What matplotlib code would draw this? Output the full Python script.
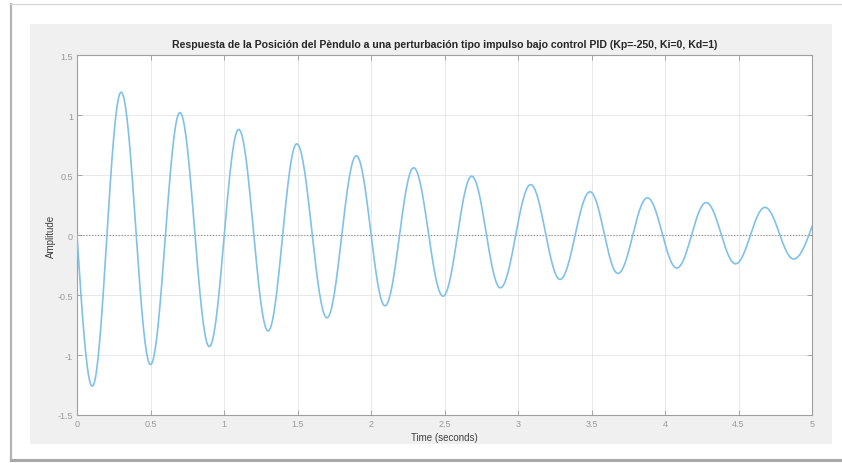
import numpy as np
import matplotlib
matplotlib.use('Agg')
import matplotlib.pyplot as plt
from matplotlib.patches import Rectangle
from matplotlib.lines import Line2D

plt.rcParams['font.family'] = ['Liberation Sans', 'DejaVu Sans']

# valores: picos y valles de la respuesta
t_start, v_start = 0.0, 0.0
t_ext = [0.104, 0.30, 0.50, 0.70, 0.90, 1.10, 1.30, 1.495, 1.70, 1.90,
         2.095, 2.29, 2.49, 2.685, 2.88, 3.086, 3.286, 3.49, 3.68, 3.88,
         4.08, 4.28, 4.48, 4.68, 4.875]
v_ext = [-1.26, 1.19, -1.08, 1.02, -0.93, 0.88, -0.80, 0.76, -0.69, 0.66,
         -0.59, 0.56, -0.51, 0.49, -0.44, 0.42, -0.37, 0.36, -0.32, 0.31,
         -0.275, 0.27, -0.24, 0.23, -0.20]
t_end, v_end = 5.0, 0.07

x_ticks = [0, 0.5, 1, 1.5, 2, 2.5, 3, 3.5, 4, 4.5, 5]
x_labels = ['0', '0.5', '1', '1.5', '2', '2.5', '3', '3.5', '4', '4.5', '5']
y_ticks = [-1.5, -1, -0.5, 0, 0.5, 1, 1.5]
y_labels = ['-1.5', '-1', '-0.5', '0', '0.5', '1', '1.5']

titulo = 'Respuesta de la Posición del Pèndulo a una perturbación tipo impulso bajo control PID (Kp=-250, Ki=0, Kd=1)'


def curva(t0, v0, te, ve, tf, vf):
    # trazo suave entre los extremos leidos
    T, V = [], []
    s = np.linspace(0, 1, 40)
    T.append(t0 + (te[0] - t0) * s)
    V.append(v0 + (ve[0] - v0) * np.sin(np.pi / 2 * s))
    for i in range(len(te) - 1):
        T.append(te[i] + (te[i + 1] - te[i]) * s)
        V.append(ve[i] + (ve[i + 1] - ve[i]) * (1 - np.cos(np.pi * s)) / 2)
    T.append(te[-1] + (tf - te[-1]) * s)
    V.append(ve[-1] + (vf - ve[-1]) * (1 - np.cos(np.pi / 2 * s)))
    return np.concatenate(T), np.concatenate(V)


t, y = curva(t_start, v_start, t_ext, v_ext, t_end, v_end)

W, H = 842, 464
fig = plt.figure(figsize=(W / 100, H / 100), dpi=100)
fig.patch.set_facecolor('white')

# panel gris de la ventana
fig.patches.append(Rectangle((30 / W, 1 - 445 / H), 802 / W, 420 / H,
                             transform=fig.transFigure, facecolor='#f0f0f0',
                             edgecolor='none', zorder=-5))
# marco de la captura
fig.lines.append(Line2D([11 / W, 11 / W], [1 - 5 / H, 1 - 462 / H],
                        transform=fig.transFigure, color='#b4b4b4', lw=1.6, zorder=-4))
fig.lines.append(Line2D([11 / W, 1], [1 - 5 / H, 1 - 5 / H],
                        transform=fig.transFigure, color='#d8d8d8', lw=1.0, zorder=-4))
fig.lines.append(Line2D([11 / W, 1], [1 - 461 / H, 1 - 461 / H],
                        transform=fig.transFigure, color='#a8a8a8', lw=2.2, zorder=-4))

ax = fig.add_axes([77 / W, 1 - 416 / H, 735 / W, 360 / H])
ax.set_facecolor('white')
ax.plot(t, y, color='#80c1ea', lw=1.2, zorder=3)
ax.axhline(0, color='#8c8c8c', lw=0.8, ls=':', zorder=2)

ax.set_xlim(0, 5)
ax.set_ylim(-1.5, 1.5)
ax.set_xticks(x_ticks)
ax.set_xticklabels(x_labels)
ax.set_yticks(y_ticks)
ax.set_yticklabels(y_labels)
ax.grid(True, color='#e8e8e8', lw=0.7)
ax.set_axisbelow(True)
ax.tick_params(direction='in', length=3.5, width=0.6, colors='#9a9a9a',
               labelsize=6.5, top=True, right=True, pad=3)
for sp in ax.spines.values():
    sp.set_color('#a0a0a0')
    sp.set_linewidth(0.8)

ax.set_title(titulo, fontsize=7.6, fontweight='bold', color='#262626', pad=6)
ax.set_xlabel('Time (seconds)', fontsize=7, color='#404040', labelpad=3)
ax.set_ylabel('Amplitude', fontsize=7, color='#404040', labelpad=1)

fig.savefig('out.png', dpi=100, facecolor='white')
